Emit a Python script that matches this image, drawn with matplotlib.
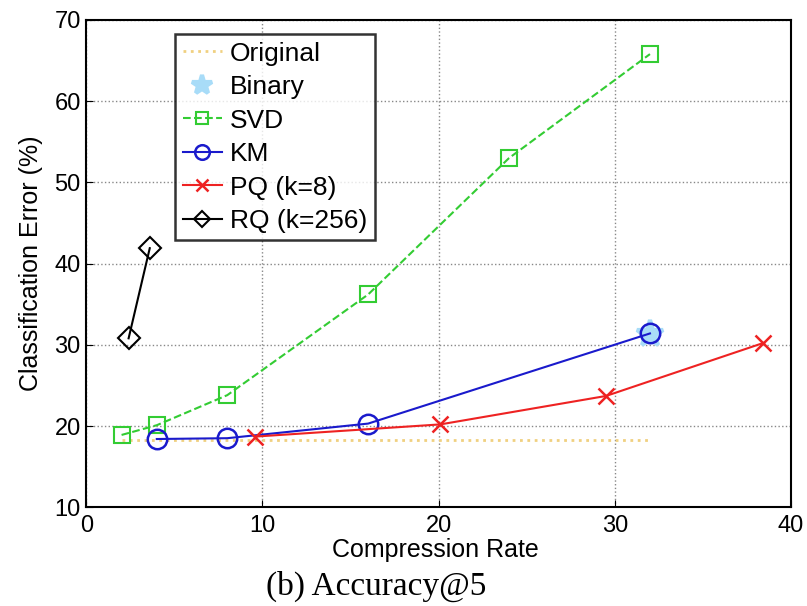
import matplotlib.pyplot as plt

plt.rcParams['font.family'] = ['Liberation Sans', 'DejaVu Sans']

orig_x = [2, 32]
orig_y = [18.3, 18.3]
binary_x = [32]
binary_y = [31.3]
svd_x = [2, 4, 8, 16, 24, 32]
svd_y = [18.9, 20.1, 23.8, 36.2, 53.0, 65.8]
km_x = [4, 8, 16, 32]
km_y = [18.4, 18.5, 20.3, 31.4]
pq_x = [9.6, 20.1, 29.5, 38.4]
pq_y = [18.7, 20.2, 23.7, 30.2]
rq_x = [2.4, 3.6]
rq_y = [30.8, 41.9]

fig = plt.figure(figsize=(8.07, 6.06), dpi=100)
ax = fig.add_axes([0.107, 0.163, 0.873, 0.804])

ax.plot(orig_x, orig_y, ':', color='#f0d080', lw=2, label='Original')
ax.plot(binary_x, binary_y, '*', color='#a8dcf8', ms=20, mew=3, label='Binary')
ax.plot(svd_x, svd_y, '--s', color='#33cc33', mfc='none', ms=12, mew=1.5, lw=1.5, label='SVD')
ax.plot(km_x, km_y, '-o', color='#1a1acc', mfc='none', ms=14, mew=1.8, lw=1.5, label='KM')
ax.plot(pq_x, pq_y, '-x', color='#ee2222', ms=11, mew=1.8, lw=1.5, label='PQ (k=8)')
ax.plot(rq_x, rq_y, '-D', color='black', mfc='none', ms=11, mew=1.5, lw=1.5, label='RQ (k=256)')

ax.set_xlim(0, 40)
ax.set_ylim(10, 70)
ax.set_xticks([0, 10, 20, 30, 40])
ax.set_yticks([10, 20, 30, 40, 50, 60, 70])
ax.tick_params(direction='in', labelsize=17, length=5)
ax.tick_params(axis='x', pad=5.5)
ax.tick_params(axis='y', pad=4)
ax.grid(True, linestyle=':', color='#888888', lw=1)
for s in ax.spines.values():
    s.set_linewidth(1.5)

ax.set_xlabel('Compression Rate', fontsize=18)
ax.xaxis.label.set_va('baseline')
ax.xaxis.set_label_coords(0.496, -0.1027)
ax.set_ylabel('Classification Error (%)', fontsize=18)
ax.yaxis.label.set_va('center')
ax.yaxis.set_label_coords(-0.078, 0.5)

leg = ax.legend(loc='upper left', bbox_to_anchor=(0.126, 0.971), fontsize=19,
                frameon=True, fancybox=False, edgecolor='black',
                handlelength=1.5, handletextpad=0.3, labelspacing=0.36,
                borderpad=0.28, borderaxespad=0, markerscale=0.75)
leg.get_frame().set_linewidth(1.8)

fig.text(0.466, 0.018, '(b) Accuracy@5', family='Liberation Serif', fontsize=24,
         ha='center', va='baseline')

fig.savefig('out.png')
